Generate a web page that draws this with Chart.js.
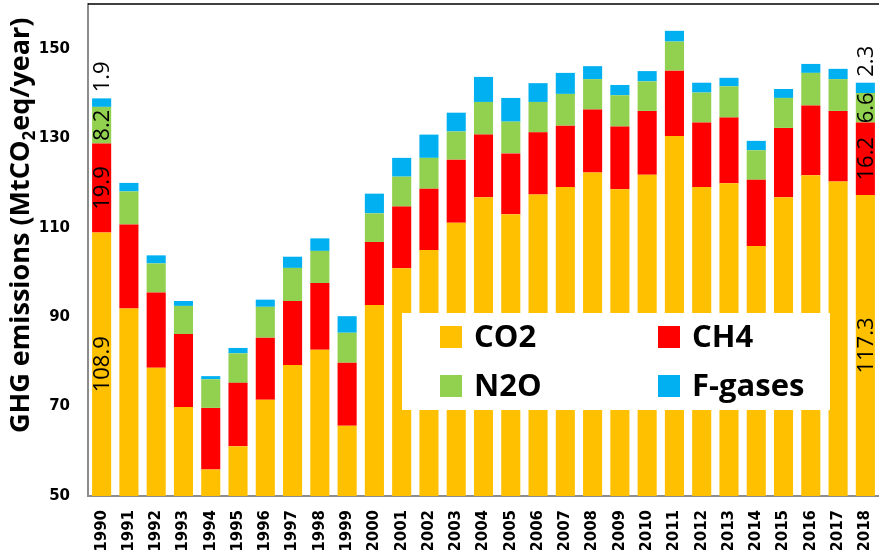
<!DOCTYPE html>
<html lang="en">
<head>
    <meta charset="UTF-8">
    <title>GHG emissions by gas, 1990-2018</title>
    <script src="https://cdn.jsdelivr.net/npm/chart.js"></script>
    <style>
        body {
            margin: 0;
            background: #ffffff;
        }
        #wrap {
            width: 879px;
            height: 550px;
        }
    </style>
</head>
<body>
    <div id="wrap">
        <canvas id="ghgChart" width="879" height="550"></canvas>
    </div>

    <script>
        const years = ["1990", "1991", "1992", "1993", "1994", "1995", "1996", "1997", "1998", "1999",
                       "2000", "2001", "2002", "2003", "2004", "2005", "2006", "2007", "2008", "2009",
                       "2010", "2011", "2012", "2013", "2014", "2015", "2016", "2017", "2018"];
        const co2 = [108.9, 91.9, 78.7, 69.9, 55.9, 61.1, 71.5, 79.3, 82.7, 65.7,
                     92.7, 100.9, 105.0, 111.1, 116.8, 113.0, 117.4, 119.1, 122.3, 118.6,
                     121.8, 130.5, 119.1, 119.9, 105.9, 116.8, 121.7, 120.3, 117.3];
        const ch4 = [19.9, 18.8, 16.8, 16.3, 13.8, 14.2, 13.9, 14.3, 14.9, 14.1,
                     14.1, 13.8, 13.7, 14.1, 14.0, 13.6, 13.9, 13.7, 14.1, 14.0,
                     14.3, 14.6, 14.4, 14.7, 14.8, 15.5, 15.6, 15.8, 16.2];
        const n2o = [8.2, 7.4, 6.5, 6.3, 6.4, 6.6, 6.9, 7.4, 7.2, 6.7,
                     6.4, 6.7, 6.9, 6.3, 7.3, 7.1, 6.8, 7.1, 6.8, 7.0,
                     6.6, 6.5, 6.7, 7.0, 6.6, 6.7, 7.3, 7.1, 6.6];
        const fgases = [1.9, 1.9, 1.8, 1.1, 0.7, 1.2, 1.6, 2.5, 2.8, 3.7,
                        4.4, 4.2, 5.2, 4.2, 5.6, 5.3, 4.2, 4.7, 2.9, 2.3,
                        2.3, 2.4, 2.2, 1.9, 2.1, 2.0, 2.0, 2.3, 2.3];
        const yTicks = [50, 70, 90, 110, 130, 150];
        const labelledYears = ["1990", "2018"];

        // value labels written sideways on the first and last bar
        const valueLabels = {
            id: 'valueLabels',
            afterDatasetsDraw(chart) {
                const ctx = chart.ctx;
                const last = chart.data.datasets.length - 1;
                const bottom = chart.chartArea.bottom;
                ctx.save();
                ctx.font = '22px "Open Sans"';
                ctx.fillStyle = '#000';
                ctx.textBaseline = 'middle';
                chart.data.datasets.forEach((ds, d) => {
                    const meta = chart.getDatasetMeta(d);
                    labelledYears.forEach(yr => {
                        const i = chart.data.labels.indexOf(yr);
                        const bar = meta.data[i];
                        const txt = ds.data[i].toFixed(1);
                        ctx.save();
                        if (d === last) {
                            ctx.translate(bar.x + 1, bar.y - 6);
                            ctx.rotate(-Math.PI / 2);
                            ctx.textAlign = 'left';
                        } else {
                            const base = Math.min(bar.base, bottom);
                            ctx.translate(bar.x + 1, (bar.y + base) / 2);
                            ctx.rotate(-Math.PI / 2);
                            ctx.textAlign = 'center';
                        }
                        ctx.fillText(txt, 0, 0);
                        ctx.restore();
                    });
                });
                ctx.restore();
            }
        };

        // legend box sitting over the bars, top frame line, axis title
        const extras = {
            id: 'extras',
            afterDraw(chart) {
                const ctx = chart.ctx;
                const ca = chart.chartArea;
                ctx.save();

                ctx.strokeStyle = '#000';
                ctx.lineWidth = 1.5;
                ctx.beginPath();
                ctx.moveTo(ca.left, ca.top);
                ctx.lineTo(ca.right, ca.top);
                ctx.stroke();

                ctx.fillStyle = '#fff';
                ctx.fillRect(402, 313, 428, 97);
                const spots = [[440, 337], [658, 337], [440, 386], [658, 386]];
                ctx.font = 'bold 31px "Open Sans"';
                ctx.textBaseline = 'middle';
                ctx.textAlign = 'left';
                chart.data.datasets.forEach((ds, d) => {
                    const [x, y] = spots[d];
                    ctx.fillStyle = ds.backgroundColor;
                    ctx.fillRect(x, y - 11, 22, 22);
                    ctx.fillStyle = '#000';
                    ctx.fillText(ds.label, x + 34, y + 1);
                });

                // y axis title with subscript 2
                ctx.translate(29, 433);
                ctx.rotate(-Math.PI / 2);
                ctx.fillStyle = '#000';
                ctx.textBaseline = 'alphabetic';
                ctx.font = 'bold 27px "Open Sans"';
                const a = 'GHG emissions (MtCO';
                ctx.fillText(a, 0, 0);
                let w = ctx.measureText(a).width;
                ctx.font = 'bold 17px "Open Sans"';
                ctx.fillText('2', w, 6);
                w += ctx.measureText('2').width;
                ctx.font = 'bold 27px "Open Sans"';
                ctx.fillText('eq/year)', w, 0);
                ctx.restore();
            }
        };

        new Chart(document.getElementById('ghgChart'), {
            type: 'bar',
            data: {
                labels: years,
                datasets: [
                    { label: 'CO2', data: co2, backgroundColor: '#FFC000' },
                    { label: 'CH4', data: ch4, backgroundColor: '#FF0000' },
                    { label: 'N2O', data: n2o, backgroundColor: '#92D050' },
                    { label: 'F-gases', data: fgases, backgroundColor: '#00B0F0' }
                ]
            },
            options: {
                responsive: false,
                animation: false,
                layout: { padding: { top: 4, right: 0, bottom: 0, left: 0 } },
                datasets: {
                    bar: { categoryPercentage: 1, barPercentage: 0.7, borderWidth: 0 }
                },
                plugins: {
                    legend: { display: false },
                    tooltip: { enabled: false }
                },
                scales: {
                    x: {
                        stacked: true,
                        grid: { display: false, drawTicks: false, tickLength: 0 },
                        border: { color: '#8c8c8c', width: 2 },
                        ticks: {
                            autoSkip: false,
                            minRotation: 90,
                            maxRotation: 90,
                            padding: 14,
                            color: '#000',
                            font: { family: 'DejaVu Sans', weight: 'bold', size: 15 }
                        },
                        afterFit: s => {
                            s.height = 54;
                            s.paddingLeft = 0;
                            s.paddingRight = 0;
                        }
                    },
                    y: {
                        stacked: true,
                        min: 50,
                        max: 160,
                        grid: { display: false, drawTicks: false, tickLength: 0 },
                        border: { color: '#8c8c8c', width: 2 },
                        ticks: {
                            padding: 18,
                            color: '#000',
                            font: { family: 'DejaVu Sans', weight: 'bold', size: 15 }
                        },
                        afterBuildTicks: s => { s.ticks = yTicks.map(v => ({ value: v })); },
                        afterFit: s => {
                            s.width = 88;
                            s.paddingTop = 0;
                            s.paddingBottom = 0;
                        }
                    }
                }
            },
            plugins: [valueLabels, extras]
        });
    </script>
</body>
</html>
